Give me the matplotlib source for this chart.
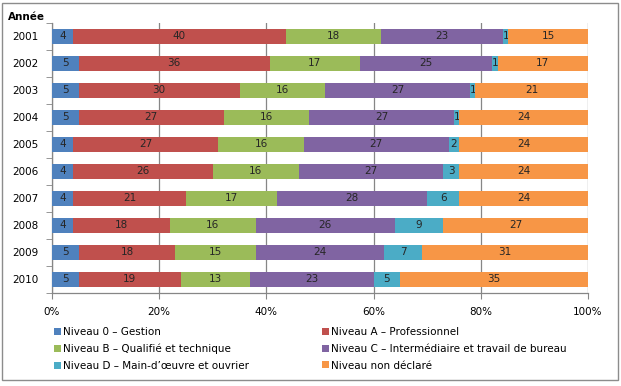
import matplotlib
matplotlib.use("Agg")
import matplotlib.pyplot as plt
from matplotlib.patches import Rectangle, Patch
import numpy as np

years = ["2001", "2002", "2003", "2004", "2005", "2006", "2007", "2008", "2009", "2010"]
series_names = [
    "Niveau 0 – Gestion",
    "Niveau A – Professionnel",
    "Niveau B – Qualifié et technique",
    "Niveau C – Intermédiaire et travail de bureau",
    "Niveau D – Main-d’œuvre et ouvrier",
    "Niveau non déclaré",
]
niveau_0 = [4, 5, 5, 5, 4, 4, 4, 4, 5, 5]
niveau_a = [40, 36, 30, 27, 27, 26, 21, 18, 18, 19]
niveau_b = [18, 17, 16, 16, 16, 16, 17, 16, 15, 13]
niveau_c = [23, 25, 27, 27, 27, 27, 28, 26, 24, 23]
niveau_d = [1, 1, 1, 1, 2, 3, 6, 9, 7, 5]
non_declare = [15, 17, 21, 24, 24, 24, 24, 27, 31, 35]
colors = ["#4F81BD", "#C0504D", "#9BBB59", "#8064A2", "#4BACC6", "#F79646"]
x_ticks = [0, 20, 40, 60, 80, 100]

W, H = 621, 386
fig = plt.figure(figsize=(W / 100, H / 100), dpi=100)
fig.patch.set_facecolor("white")
ax = fig.add_axes([52 / W, 1 - 293 / H, (588 - 52) / W, (293 - 22.7) / H])

data = np.array([niveau_0, niveau_a, niveau_b, niveau_c, niveau_d, non_declare], dtype=float)
totals = data.sum(axis=0)
pct = data / totals * 100
ypos = np.arange(len(years))
left = np.zeros(len(years))
fs = 7.5
for i in range(len(series_names)):
    bars = ax.barh(ypos, pct[i], left=left, height=0.56, color=colors[i],
                   edgecolor="none", label=series_names[i], zorder=3)
    ax.bar_label(bars, labels=[str(int(v)) for v in data[i]], label_type="center",
                 fontsize=fs, color="#262626")
    left += pct[i]

ax.set_xlim(0, 100)
ax.set_ylim(len(years) - 0.5, -0.5)
ax.set_xticks(x_ticks)
ax.set_xticklabels([f"{t}%" for t in x_ticks], fontsize=fs)
ax.set_yticks(ypos)
ax.set_yticklabels(years, fontsize=fs)
ax.set_yticks(np.arange(-0.5, len(years), 1), minor=True)
ax.tick_params(axis="y", which="major", length=0, pad=9.5)
ax.tick_params(axis="y", which="minor", length=4, color="#868686")
ax.tick_params(axis="x", length=4, color="#868686", pad=6)
ax.grid(axis="x", color="#868686", linewidth=0.9, zorder=0)
for s in ["top", "right"]:
    ax.spines[s].set_visible(False)
for s in ["left", "bottom"]:
    ax.spines[s].set_color("#868686")
    ax.spines[s].set_linewidth(0.9)

fig.text(8 / W, 1 - 17 / H, "Année", fontsize=fs, fontweight="bold", va="center", ha="left")

handles = [Patch(facecolor=c, edgecolor="none") for c in colors]
common = dict(frameon=False, fontsize=fs, handlelength=0.68, handleheight=0.68,
              handletextpad=0.2, labelspacing=0.65, borderpad=0, borderaxespad=0)
fig.legend([handles[0], handles[2], handles[4]], [series_names[0], series_names[2], series_names[4]],
           loc="upper left", bbox_to_anchor=(54 / W, 1 - 327 / H), **common)
fig.legend([handles[1], handles[3], handles[5]], [series_names[1], series_names[3], series_names[5]],
           loc="upper left", bbox_to_anchor=(321.5 / W, 1 - 327 / H), **common)

fig.patches.append(Rectangle((2 / W, 1 - 380 / H), 616 / W, 377 / H, transform=fig.transFigure,
                             fill=False, edgecolor="#8c8c8c", linewidth=1.0))

fig.savefig("out.png", dpi=100)
